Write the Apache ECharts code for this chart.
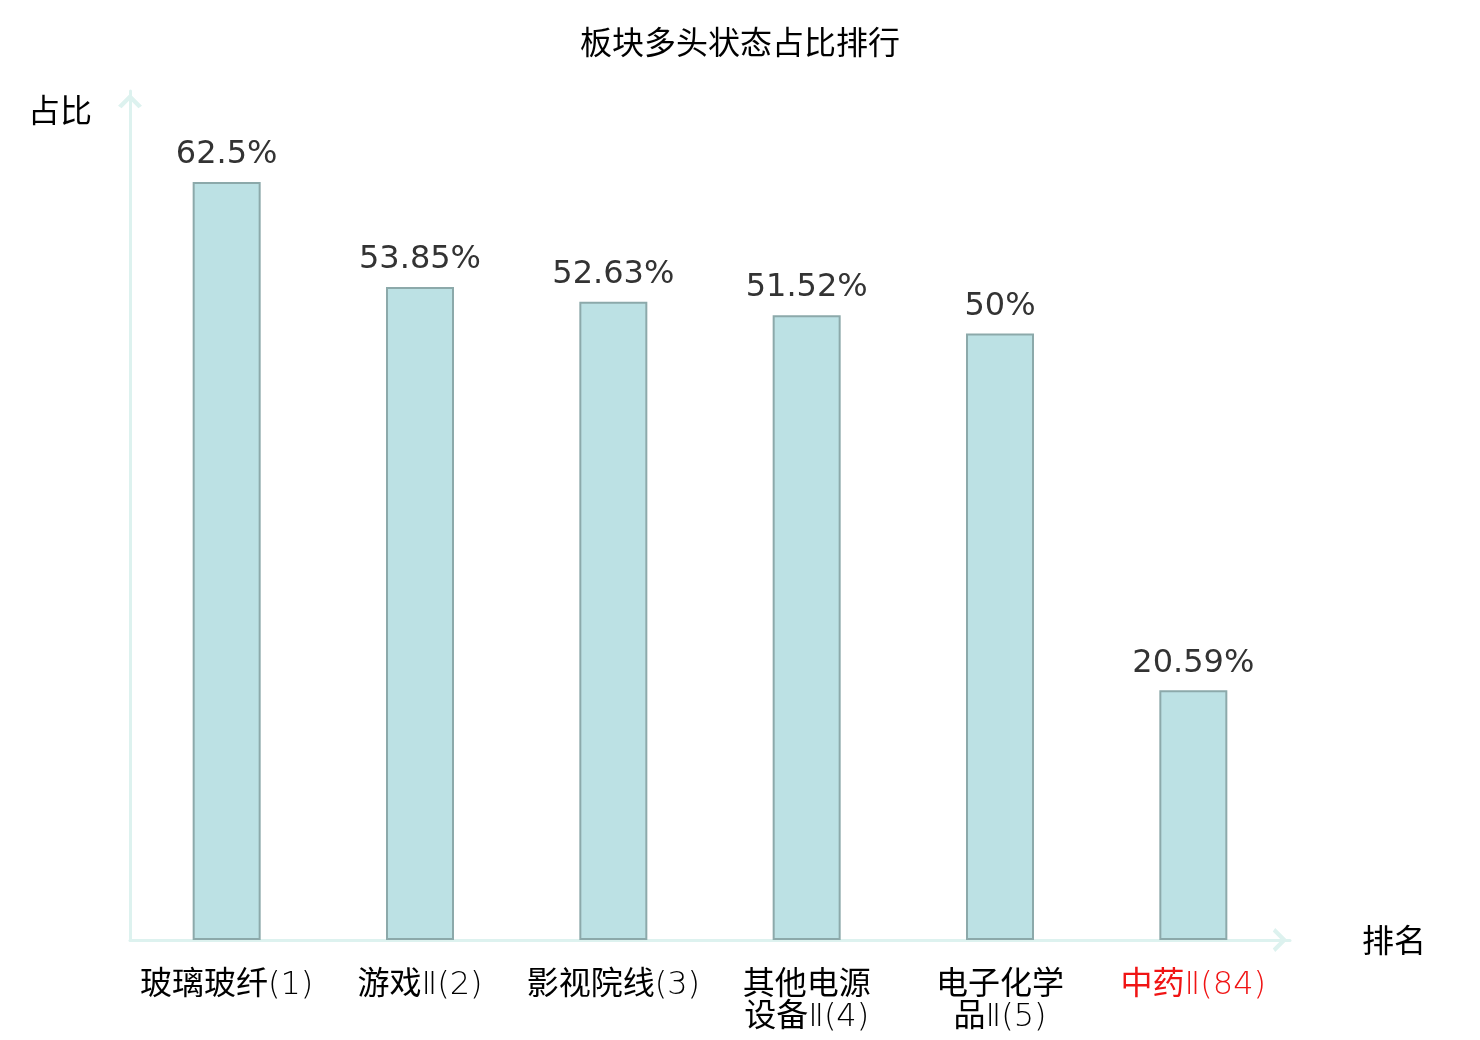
<!DOCTYPE html>
<html>
<head>
<meta charset="utf-8">
<title>板块多头状态占比排行</title>
<script src="https://cdn.jsdelivr.net/npm/echarts@6/dist/echarts.min.js"></script>
<style>
  html, body { margin: 0; padding: 0; background: #fff; }
  #chart { width: 1480px; height: 1040px; }
</style>
</head>
<body>
<div id="chart"></div>
<script>
// 板块名称(排名) 与 多头状态占比(%)
const categories = ['玻璃玻纤(1)', '游戏Ⅱ(2)', '影视院线(3)', '其他电源设备Ⅱ(4)', '电子化学品Ⅱ(5)', '中药Ⅱ(84)']
const ratios = [62.5, 53.85, 52.63, 51.52, 50, 20.59]
const highlight = ['中药Ⅱ(84)']

const FONT = 'DejaVu Sans, "Noto Sans CJK SC", sans-serif'
const CJK = '"Noto Sans CJK SC", sans-serif'
const AXIS_COLOR = '#ddf2ef'
// 空心箭头
const chevron = 'path://M0,10 L10,0 L20,10 L17,12 L10,5 L3,12 Z'

// 汉字用常规字重, 其余字符用细体; 名称过长时在第 4 个字后换行
function wrapName(name) {
  let lines = name.length <= 8 ? [name] : [name.slice(0, 4), name.slice(4)]
  return lines.map(line => {
    let out = ''
    let buf = ''
    let cur = null
    for (const ch of line) {
      const t = /[\u4e00-\u9fff]/.test(ch) ? 'c' : 'l'
      if (t !== cur && buf) {
        out += '{' + cur + '|' + buf + '}'
        buf = ''
      }
      cur = t
      buf += ch
    }
    if (buf) out += '{' + cur + '|' + buf + '}'
    return out
  }).join('\n')
}

let option = {
  backgroundColor: '#fff',
  textStyle: { fontFamily: FONT },
  title: {
    text: '板块多头状态占比排行',
    left: 'center',
    top: 21,
    textStyle: { fontSize: 32, fontWeight: 'normal', color: '#000', fontFamily: CJK }
  },
  grid: {
    left: 130,
    right: 190,
    top: 91,
    bottom: 100,
    containLabel: false
  },
  xAxis: {
    type: 'category',
    data: categories.map(c => highlight.includes(c)
      ? { value: c, textStyle: { color: '#f01414' } }
      : c),
    name: '排名',
    nameGap: 72,
    nameTextStyle: { fontSize: 32, color: '#000', fontFamily: CJK, padding: [8, 0, 0, 0] },
    axisLine: {
      lineStyle: { color: AXIS_COLOR, width: 3 },
      symbol: ['none', chevron],
      symbolSize: [24, 20],
      symbolOffset: [0, -10]
    },
    axisTick: { show: false },
    axisLabel: {
      interval: 0,
      margin: 30,
      fontSize: 32,
      lineHeight: 32,
      color: '#000',
      fontFamily: FONT,
      formatter: wrapName,
      rich: {
        c: { fontSize: 32, lineHeight: 32, fontWeight: 'normal', fontFamily: FONT },
        l: { fontSize: 32, lineHeight: 32, fontWeight: 200, fontFamily: FONT }
      }
    },
    splitLine: { show: false }
  },
  yAxis: {
    type: 'value',
    min: 0,
    max: 70,
    name: '占比',
    nameGap: -19,
    nameTextStyle: {
      fontSize: 32,
      color: '#000',
      align: 'right',
      verticalAlign: 'middle',
      padding: [6, 38, 0, 0],
      fontFamily: CJK
    },
    axisLine: {
      show: true,
      lineStyle: { color: AXIS_COLOR, width: 3 },
      symbol: ['none', chevron],
      symbolSize: [24, 20],
      symbolOffset: [0, -10]
    },
    axisTick: { show: false },
    axisLabel: { show: false },
    splitLine: { show: false }
  },
  series: [{
    name: '占比',
    type: 'bar',
    data: ratios,
    barWidth: 68,
    itemStyle: {
      color: '#bce1e4',
      borderColor: '#8ca9aa',
      borderWidth: 2
    },
    label: {
      show: true,
      position: 'top',
      distance: 11,
      fontSize: 32,
      color: '#333',
      fontFamily: FONT,
      formatter: p => p.value + '%'
    }
  }]
}

let myChart = echarts.init(document.getElementById('chart'))
myChart.setOption(option)
</script>
</body>
</html>
